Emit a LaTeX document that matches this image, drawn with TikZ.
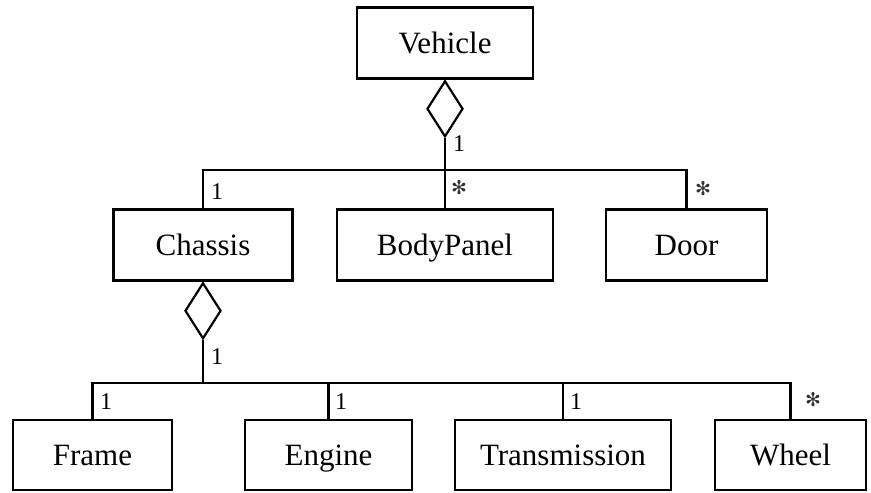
\documentclass[tikz,border=0pt]{standalone}
\usepackage{fontspec}
\setmainfont{Liberation Serif}
\newfontfamily\symfont{DejaVu Sans}
\usetikzlibrary{shapes.geometric}
\begin{document}
\begin{tikzpicture}[x=1pt,y=-1pt,
  line width=2.4pt,
  classbox/.style={draw, rectangle, inner sep=0pt, minimum height=71pt,
    text height=20.5pt, text depth=0.5pt,
    font=\fontsize{31}{34}\selectfont},
  aggr/.style={draw, diamond, fill=white, inner sep=0pt, line width=2.2pt,
    minimum width=36pt, minimum height=56pt, anchor=north},
  mult/.style={inner sep=0pt, anchor=south west, font=\fontsize{24}{26}\selectfont},
  many/.style={inner sep=0pt, anchor=center, font=\symfont\fontsize{19}{20}\selectfont, text=black!80}]
\useasboundingbox (0,0) rectangle (871,493);

% classes
\node[classbox, minimum width=176pt] (vehicle) at (445,43) {Vehicle};
\node[classbox, minimum width=179pt] (chassis) at (203,245) {Chassis};
\node[classbox, minimum width=216pt] (body) at (445,245) {BodyPanel};
\node[classbox, minimum width=161pt] (door) at (686.5,245) {Door};
\node[classbox, minimum width=159pt, minimum height=70pt] (frame) at (92.5,455) {Frame};
\node[classbox, minimum width=167pt, minimum height=70pt] (engine) at (328.5,455) {Engine};
\node[classbox, minimum width=216pt, minimum height=70pt] (trans) at (563,455) {Transmission};
\node[classbox, minimum width=151pt, minimum height=70pt] (wheel) at (790.5,455) {Wheel};

% aggregation diamonds
\node[aggr] (vdia) at (vehicle.south) {};
\node[aggr] (cdia) at (chassis.south) {};

% horizontal buses
\coordinate (bus1) at (0,170);
\coordinate (bus2) at (0,383);

% Vehicle aggregation tree
\draw (vdia.south) -- (vdia.south |- bus1);
\draw (chassis.north) -- (chassis.north |- bus1) -- (door.north |- bus1) -- (door.north);
\draw (body.north) -- (body.north |- bus1);

% Chassis aggregation tree
\draw (cdia.south) -- (cdia.south |- bus2);
\draw (frame.north) -- (frame.north |- bus2) -- (wheel.north |- bus2) -- (wheel.north);
\draw (engine.north) -- (engine.north |- bus2);
\draw (trans.north) -- (trans.north |- bus2);

% multiplicities
\node[mult] (m1) at (452,153) {1};
\node[mult] (m2) at (210,201) {1};
\node[many] (m3) at (459,188) {✻};
\node[many] (m4) at (703,189) {✻};
\node[mult] (m5) at (210,366) {1};
\node[mult] (m6) at (99,411) {1};
\node[mult] (m7) at (334,411) {1};
\node[mult] (m8) at (569,411) {1};
\node[many] (m9) at (813,400) {✻};
\end{tikzpicture}
\end{document}
